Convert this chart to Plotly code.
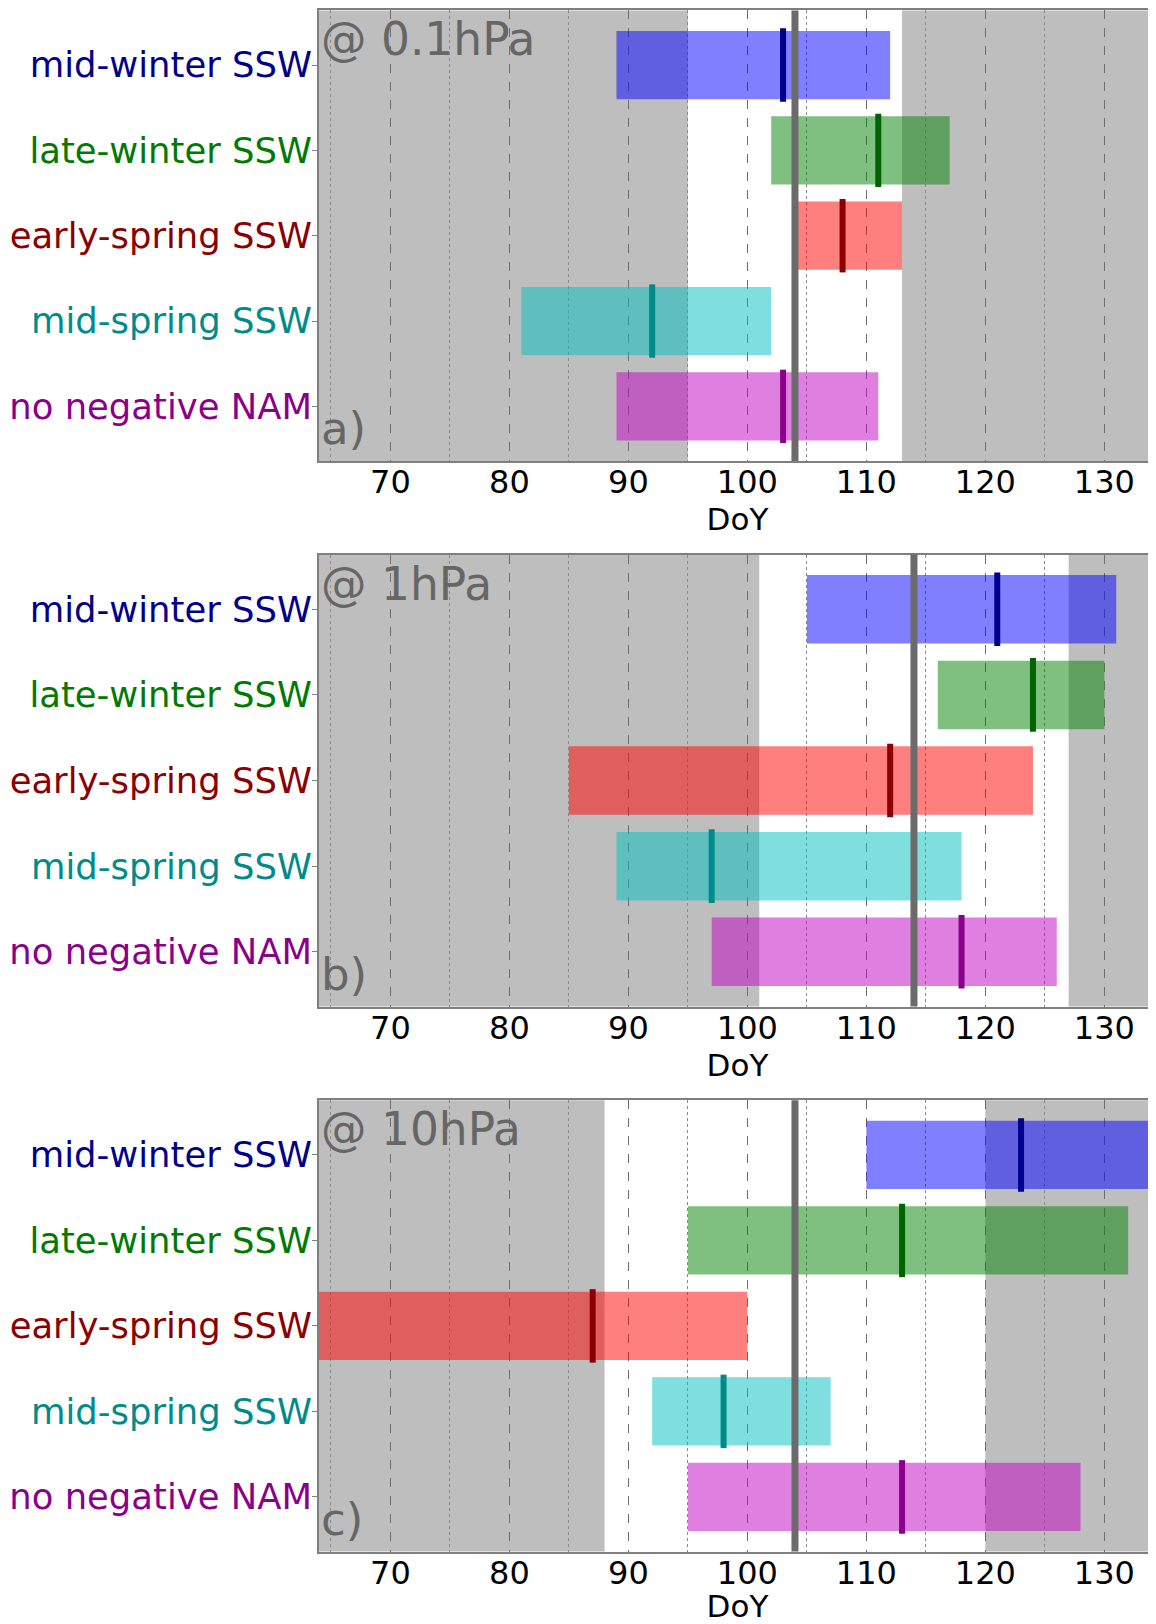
import plotly.graph_objects as go
from plotly.subplots import make_subplots

categories = ["mid-winter SSW", "late-winter SSW", "early-spring SSW", "mid-spring SSW", "no negative NAM"]

# panel a) 0.1 hPa
p01_start = [89, 102, 104, 81, 89]
p01_end = [112, 117, 113, 102, 111]
p01_median = [103, 111, 108, 92, 103]
# panel b) 1 hPa
p1_start = [105, 116, 85, 89, 97]
p1_end = [131, 130, 124, 118, 126]
p1_median = [121, 124, 112, 97, 118]
# panel c) 10 hPa
p10_start = [110, 95, 63, 92, 95]
p10_end = [134, 132, 100, 107, 128]
p10_median = [123, 113, 87, 98, 113]

band_start = [95, 101, 88]
band_end = [113, 127, 120]
clim_line = [104, 114, 104]
level_labels = ["@ 0.1hPa", "@ 1hPa", "@ 10hPa"]
panel_tags = ["a)", "b)", "c)"]
x_ticks = [70, 80, 90, 100, 110, 120, 130]
x_minor = [65, 75, 85, 95, 105, 115, 125]

bar_colors = ["rgba(0,0,255,0.5)", "rgba(0,128,0,0.5)", "rgba(255,0,0,0.5)",
              "rgba(0,191,191,0.5)", "rgba(191,0,191,0.5)"]
median_colors = ["#00008b", "#006400", "#8b0000", "#008b8b", "#8b008b"]
label_colors = ["#00008b", "#007a00", "#8b0000", "#008b8b", "#8b008b"]

# page body has an 8px margin: the figure is sized/positioned to compensate
OFF = 8
XMIN, XMAX = 64, 134.34
W, H = 1156 - OFF, 1624 - OFF
px_panels = [(10.4, 461), (554.5, 1006.6), (1100.2, 1551.6)]
domains = [(1 - (b - OFF) / H, 1 - (t - OFF) / H) for t, b in px_panels]

panels = [(p01_start, p01_end, p01_median), (p1_start, p1_end, p1_median), (p10_start, p10_end, p10_median)]

fig = make_subplots(rows=3, cols=1)
ypos = list(range(len(categories)))
ticktext = [f"<span style='color:{c}'>{t}</span>" for t, c in zip(categories, label_colors)]
HALF = 0.43

for i, (st, en, md) in enumerate(panels):
    r = i + 1
    fig.add_trace(go.Bar(
        y=ypos, x=[e - s for s, e in zip(st, en)], base=st, orientation="h",
        width=0.8, marker=dict(color=bar_colors, line=dict(width=0)), showlegend=False,
    ), row=r, col=1)
    for k in ypos:
        fig.add_trace(go.Scatter(
            x=[md[k], md[k]], y=[k - HALF, k + HALF], mode="lines", showlegend=False,
            line=dict(color=median_colors[k], width=6),
        ), row=r, col=1)
    xa = "x" if r == 1 else f"x{r}"
    ya = "y" if r == 1 else f"y{r}"
    for x0, x1 in [(XMIN, band_start[i]), (band_end[i], XMAX)]:
        fig.add_shape(type="rect", xref=xa, yref=f"{ya} domain", x0=x0, x1=x1, y0=0, y1=1,
                      fillcolor="#bebebe", line=dict(width=0), layer="below")
    fig.add_shape(type="line", xref=xa, yref=f"{ya} domain", x0=clim_line[i], x1=clim_line[i],
                  y0=0, y1=1, line=dict(color="#6b6b6b", width=7), layer="above")
    fig.add_annotation(xref=f"{xa} domain", yref=f"{ya} domain", x=0.0, y=1.0, yshift=-1,
                       xanchor="left", yanchor="top", text=level_labels[i], showarrow=False,
                       font=dict(family="DejaVu Sans", size=45.5, color="#666666"))
    fig.add_annotation(xref=f"{xa} domain", yref=f"{ya} domain", x=0.0, y=0.0, yshift=4,
                       xanchor="left", yanchor="bottom", text=panel_tags[i], showarrow=False,
                       font=dict(family="DejaVu Sans", size=45, color="#666666"))
    fig.update_xaxes(row=r, col=1, domain=[0, 1], range=[XMIN, XMAX], automargin=False,
                     tickmode="array", tickvals=x_ticks, ticks="", ticklabelstandoff=-8,
                     tickfont=dict(family="DejaVu Sans", size=32, color="black"),
                     showgrid=True, gridcolor="#6e6e6e", gridwidth=1, griddash="dash",
                     minor=dict(tickmode="array", tickvals=x_minor, showgrid=True,
                                gridcolor="#8a8a8a", gridwidth=1, griddash="dot"),
                     showline=True, linecolor="#7f7f7f", linewidth=2, mirror=True,
                     zeroline=False,
                     title=dict(text="DoY", font=dict(family="DejaVu Sans", size=31, color="black"),
                                standoff=3))
    fig.update_yaxes(row=r, col=1, domain=list(domains[i]), range=[4.64, -0.64], automargin=False,
                     tickmode="array", tickvals=ypos, ticktext=ticktext,
                     ticks="outside", ticklen=5, tickcolor="#7f7f7f", ticklabelstandoff=-7,
                     tickfont=dict(family="DejaVu Sans", size=35.4),
                     showgrid=False, zeroline=False,
                     showline=True, linecolor="#7f7f7f", linewidth=2, mirror=False)

fig.update_layout(width=W, height=H, margin=dict(l=319 - OFF, r=0, t=0, b=0),
                  plot_bgcolor="white", paper_bgcolor="white", barmode="overlay",
                  font=dict(family="DejaVu Sans"))

fig.write_html("out.html")
